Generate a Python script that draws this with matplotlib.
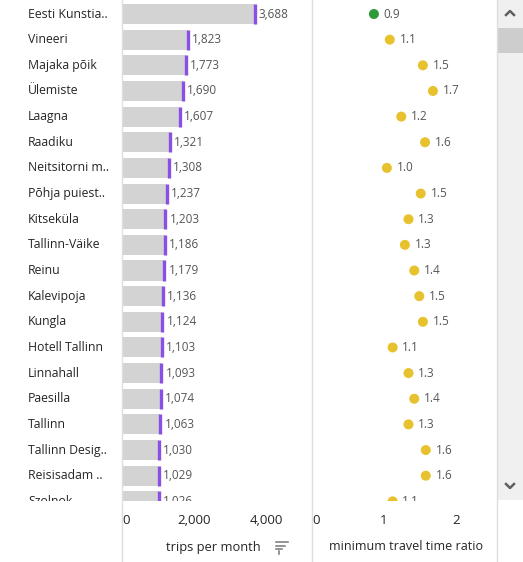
import matplotlib
matplotlib.use("Agg")
import matplotlib.pyplot as plt
from matplotlib.lines import Line2D
from matplotlib.patches import Rectangle

# ---------------- data ----------------
stations = ["Eesti Kunstia..", "Vineeri", "Majaka põik", "Ülemiste", "Laagna", "Raadiku",
            "Neitsitorni m..", "Põhja puiest..", "Kitseküla", "Tallinn-Väike", "Reinu",
            "Kalevipoja", "Kungla", "Hotell Tallinn", "Linnahall", "Paesilla", "Tallinn",
            "Tallinn Desig..", "Reisisadam ..", "Szolnok"]
trips = [3688, 1823, 1773, 1690, 1607, 1321, 1308, 1237, 1203, 1186, 1179,
         1136, 1124, 1103, 1093, 1074, 1063, 1030, 1029, 1026]
ratio = [0.86, 1.08, 1.54, 1.68, 1.24, 1.57, 1.04, 1.51, 1.34, 1.29, 1.42,
         1.49, 1.54, 1.12, 1.34, 1.42, 1.34, 1.58, 1.58, 1.12]
trip_ticks = [0, 2000, 4000]
trip_tick_labels = ["0", "2,000", "4,000"]
ratio_ticks = [0, 1, 2]
ratio_tick_labels = ["0", "1", "2"]

W, H = 523, 562
FONT = "Open Sans"
plt.rcParams["font.family"] = [FONT, "DejaVu Sans"]

fig = plt.figure(figsize=(W / 100, H / 100), dpi=100)
fig.patch.set_facecolor("white")


def px(x0, y0, x1, y1):
    return [x0 / W, 1 - y1 / H, (x1 - x0) / W, (y1 - y0) / H]


PITCH = 25.65
TOP_CENTER = 14
CLIP = 501
ylim = ((CLIP - TOP_CENTER) / PITCH, -TOP_CENTER / PITCH)

BAR_GRAY = "#d3d3d3"
PURPLE = "#8a4fe3"
GREEN = "#2f9a3a"
YELLOW = "#e8c22e"
TXT = "#252525"
VAL = "#555555"
LINE = "#dedede"

rows = list(range(len(stations)))

# names axes
axn = fig.add_axes(px(0, 0, 121, CLIP))
axn.set_xlim(0, 121)
axn.set_ylim(*ylim)
axn.axis("off")
for i, name in zip(rows, stations):
    axn.text(28, i, name, ha="left", va="center", fontsize=8.8, color=TXT, clip_on=True)

# bar axes
axb = fig.add_axes(px(122, 0, 311, CLIP))
axb.set_xlim(0, 5250)
axb.set_ylim(*ylim)
axb.barh(rows, trips, height=0.78, color=BAR_GRAY, zorder=1)
axb.vlines(trips, [r - 0.39 for r in rows], [r + 0.39 for r in rows],
           color=PURPLE, lw=2.4, zorder=2)
for i, v in zip(rows, trips):
    axb.annotate(f"{v:,}", (v, i), xytext=(3, 0), textcoords="offset points",
                 ha="left", va="center", fontsize=8.5, color=VAL,
                 annotation_clip=False, clip_on=True)
for s in axb.spines.values():
    s.set_visible(False)
axb.set_yticks([])
axb.set_xticks(trip_ticks)
axb.set_xticklabels(trip_tick_labels)
axb.tick_params(axis="x", length=0, pad=9, labelsize=9.5, labelcolor=TXT)
axb.get_xticklabels()[0].set_ha("left")
axb.patch.set_alpha(0)

# ratio axes
axr = fig.add_axes(px(312, 0, 497, CLIP))
axr.set_xlim(0, 185 / 72)
axr.set_ylim(*ylim)
colors = [GREEN if r < 1 else YELLOW for r in ratio]
axr.scatter(ratio, rows, s=52, c=colors, zorder=2, linewidths=0)
for i, v in zip(rows, ratio):
    axr.annotate(f"{v:.1f}", (v, i), xytext=(7, 0), textcoords="offset points",
                 ha="left", va="center", fontsize=8.5, color=VAL,
                 annotation_clip=False, clip_on=True)
for s in axr.spines.values():
    s.set_visible(False)
axr.set_yticks([])
axr.set_xticks(ratio_ticks)
axr.set_xticklabels(ratio_tick_labels)
axr.tick_params(axis="x", length=0, pad=9, labelsize=9.5, labelcolor=TXT)
axr.get_xticklabels()[0].set_ha("left")
axr.patch.set_alpha(0)

# axis titles
fig.text(213 / W, 1 - 547 / H, "trips per month", ha="center", va="center",
         fontsize=9.3, color=TXT)
fig.text(406 / W, 1 - 547 / H, "minimum travel time ratio", ha="center", va="center",
         fontsize=9.0, color=TXT)
# sort icon
for k, (x0, x1) in enumerate([(276, 288), (276, 285), (276, 282)]):
    yy = 1 - (542 + k * 3.5) / H
    fig.add_artist(Line2D([x0 / W, x1 / W], [yy, yy], color="#777777", lw=1.1))
fig.add_artist(Line2D([279 / W, 279 / W], [1 - 551 / H, 1 - 554 / H], color="#777777", lw=1.1))

# scrollbar
fig.add_artist(Rectangle((497.5 / W, 1 - 500 / H), 25.5 / W, 500 / H,
                         transform=fig.transFigure, facecolor="#f0f0f0", edgecolor="none"))
fig.add_artist(Rectangle((498 / W, 1 - 53 / H), 25 / W, 25 / H,
                         transform=fig.transFigure, facecolor="#cdcdcd", edgecolor="none"))
fig.add_artist(Line2D([506 / W, 510 / W, 514 / W], [1 - 15 / H, 1 - 11 / H, 1 - 15 / H],
                      color="#606060", lw=1.8))
fig.add_artist(Line2D([506 / W, 510 / W, 514 / W], [1 - 484 / H, 1 - 488 / H, 1 - 484 / H],
                      color="#606060", lw=1.8))

# vertical separators
for x in (122, 312, 497):
    fig.add_artist(Line2D([x / W, x / W], [0, 1], color=LINE, lw=1))

fig.savefig("out.png", dpi=100, facecolor="white")
